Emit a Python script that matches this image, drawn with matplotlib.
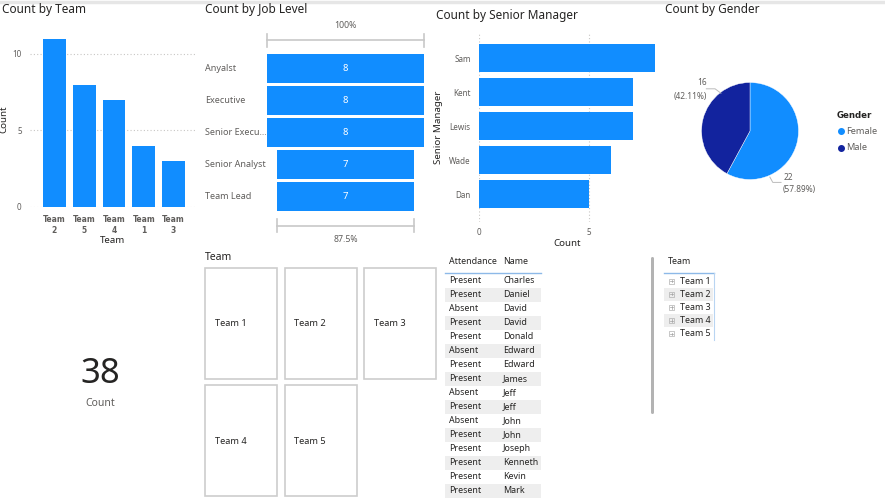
import matplotlib
matplotlib.use("Agg")
import matplotlib.pyplot as plt
import matplotlib.transforms as mtransforms
from matplotlib.patches import Rectangle, FancyBboxPatch

plt.rcParams['font.family'] = ['Noto Sans', 'DejaVu Sans']

# data
teams = ["Team\n2", "Team\n5", "Team\n4", "Team\n1", "Team\n3"]
team_counts = [11, 8, 7, 4, 3]

job_levels = ["Anyalst", "Executive", "Senior Execu\u2026", "Senior Analyst", "Team Lead"]
job_counts = [8, 8, 8, 7, 7]

managers = ["Sam", "Kent", "Lewis", "Wade", "Dan"]
manager_counts = [8, 7, 7, 6, 5]

genders = ["Female", "Male"]
gender_counts = [22, 16]

attendance = ["Present", "Present", "Absent", "Present", "Present", "Absent", "Present", "Present",
              "Absent", "Present", "Absent", "Present", "Present", "Present", "Present", "Present"]
names = ["Charles", "Daniel", "David", "David", "Donald", "Edward", "Edward", "James",
         "Jeff", "Jeff", "John", "John", "Joseph", "Kenneth", "Kevin", "Mark"]

slicer_teams = ["Team 1", "Team 2", "Team 3", "Team 4", "Team 5"]

BLUE = "#118DFF"
NAVY = "#12239E"
DARK = "#252423"
GRAY = "#605E5C"
GRID = "#C8C6C4"

W, H = 885, 500
fig = plt.figure(figsize=(W / 100, H / 100), dpi=100)


def px_axes(x0, y0, x1, y1, **kw):
    # pixel box with top-left origin -> figure axes
    return fig.add_axes([x0 / W, (H - y1) / H, (x1 - x0) / W, (y1 - y0) / H], **kw)


bg = px_axes(0, 0, W, H)
bg.set_xlim(0, W)
bg.set_ylim(H, 0)
bg.axis("off")
bg.set_zorder(0)

bg.plot([0, W], [1.5, 1.5], color="#E6E6E6", lw=2.5)

title_kw = dict(fontsize=8.5, color=DARK, va="center", ha="left")
bg.text(2, 9, "Count by Team", **title_kw)
bg.text(205, 9, "Count by Job Level", **title_kw)
bg.text(436, 16, "Count by Senior Manager", **title_kw)
bg.text(665, 9, "Count by Gender", **title_kw)

# ---- Count by Team
ax1 = px_axes(30, 31, 195, 207)
ax1.bar(range(len(teams)), team_counts, width=0.77, color=BLUE)
ax1.set_xlim(-0.82, 4.72)
ax1.set_ylim(0, 11.5)
ax1.set_yticks([0, 5, 10])
ax1.grid(axis="y", color=GRID, linestyle=(0, (1, 2)), lw=0.8)
ax1.set_axisbelow(True)
for s in ax1.spines.values():
    s.set_visible(False)
ax1.tick_params(length=0, labelsize=5.8, labelcolor=GRAY, pad=6)
ax1.set_xticks(range(len(teams)))
ax1.set_xticklabels(teams, fontsize=5.5, fontweight="bold", family="DejaVu Sans",
                    color=GRAY, linespacing=1.25)
ax1.tick_params(axis="x", pad=6)
ax1.set_xlabel("Team", fontsize=7, color=DARK, labelpad=1)
ax1.set_ylabel("Count", fontsize=7, color=DARK, labelpad=3)

# ---- Count by Job Level (funnel)
ax2 = px_axes(265, 52, 426, 213)
n = len(job_counts)
lefts = [-v / 2 for v in job_counts]
ax2.barh(range(n), job_counts, left=lefts, height=0.9, color=BLUE)
ax2.set_xlim(-4.1, 4.1)
ax2.set_ylim(n - 0.5, -0.5)
ax2.axis("off")
for i, v in enumerate(job_counts):
    ax2.text(0, i, str(v), color="white", fontsize=6.8, ha="center", va="center")
lab_tr = mtransforms.blended_transform_factory(bg.transData, ax2.transData)
for i, lab in enumerate(job_levels):
    bg.text(205, i, lab, transform=lab_tr, fontsize=6.5, color=GRAY, va="center", ha="left")


def bracket(ax, half, y, dy):
    ax.plot([-half, half], [y, y], color="#C8C8C8", lw=1.2, clip_on=False)
    for xx in (-half, half):
        ax.plot([xx, xx], [y - dy, y + dy], color="#C8C8C8", lw=1.2, clip_on=False)


bracket(ax2, job_counts[0] / 2, -0.87, 0.2)
ax2.text(0, -1.32, "100%", fontsize=6.3, color=GRAY, ha="center", va="center")
bracket(ax2, job_counts[-1] / 2, 4.9, 0.2)
ax2.text(0, 5.33, "{:g}%".format(job_counts[-1] / job_counts[0] * 100),
         fontsize=6.3, color=GRAY, ha="center", va="center")

# ---- Count by Senior Manager
ax3 = px_axes(479, 33, 655, 222)
ax3.barh(range(len(managers)), manager_counts, height=0.8, color=BLUE)
ax3.set_xlim(0, 8)
ax3.set_ylim(4.82, -0.735)
ax3.set_xticks([0, 5])
ax3.set_yticks(range(len(managers)))
ax3.set_yticklabels(managers)
ax3.grid(axis="x", color=GRID, linestyle=(0, (1, 2)), lw=0.8)
ax3.set_axisbelow(True)
for s in ax3.spines.values():
    s.set_visible(False)
ax3.tick_params(length=0, labelsize=5.8, labelcolor=GRAY)
ax3.tick_params(axis="y", pad=6)
ax3.tick_params(axis="x", pad=4)
ax3.set_xlabel("Count", fontsize=7, color=DARK, labelpad=2)
ax3.set_ylabel("Senior Manager", fontsize=7, color=DARK, labelpad=4)

# ---- Count by Gender
ax4 = px_axes(701.5, 82.5, 798.5, 179.5)
ax4.pie(gender_counts, colors=[BLUE, NAVY], startangle=90, counterclock=False,
        wedgeprops=dict(linewidth=0.3, edgecolor="white"))
ax4.set_xlim(-1, 1)
ax4.set_ylim(-1, 1)
total = sum(gender_counts)
pct = [c / total * 100 for c in gender_counts]
lbl = dict(fontsize=6, color=GRAY, ha="center", va="center")
ax4.plot([-0.60, -0.72, -0.90], [0.78, 0.87, 0.87], color="#BBBBBB", lw=0.7, clip_on=False)
ax4.text(-0.99, 0.99, str(gender_counts[1]), **lbl)
ax4.text(-1.24, 0.72, "({:.2f}%)".format(pct[1]), **lbl)
ax4.plot([0.41, 0.47, 0.64], [-0.95, -1.06, -1.06], color="#BBBBBB", lw=0.7, clip_on=False)
ax4.text(0.80, -0.95, str(gender_counts[0]), **lbl)
ax4.text(1.02, -1.20, "({:.2f}%)".format(pct[0]), **lbl)

bg.text(837, 116, "Gender", fontsize=6.2, fontweight="bold", family="DejaVu Sans",
        color=DARK, va="center")
for i, (g, c) in enumerate(zip(genders, [BLUE, NAVY])):
    yy = 131 + 17 * i
    bg.scatter([841], [yy], s=16, color=c, zorder=3)
    bg.text(846, yy, g, fontsize=6.6, color=GRAY, va="center")

# ---- card
bg.text(100, 374, str(total), fontsize=25, color=DARK, ha="center", va="center")
bg.text(100, 403, "Count", fontsize=7.5, color=GRAY, ha="center", va="center")

# ---- tile slicer
bg.text(205, 258, "Team", fontsize=7.5, color=DARK, va="center")
for i, t in enumerate(slicer_teams):
    r, c = divmod(i, 3)
    x0 = 205 + 79.5 * c
    y0 = 268 + 117 * r
    bg.add_patch(Rectangle((x0, y0), 72, 111, fill=False, edgecolor="#CDCDCD", lw=1.2))
    bg.text(x0 + 10, y0 + 56, t, fontsize=6.6, color=DARK, va="center")

# ---- attendance table
bg.text(449, 262, "Attendance", fontsize=6.4, color=DARK, va="center")
bg.text(503, 262, "Name", fontsize=6.4, color=DARK, va="center")
bg.plot([445, 541], [273, 273], color="#8DB9E8", lw=1)
for i, (a, nm) in enumerate(zip(attendance, names)):
    yy = 280.5 + 14.0 * i
    if i % 2 == 1:
        bg.add_patch(Rectangle((445, yy - 7), 96, 14, color="#EEEEEE", lw=0))
    bg.text(449, yy, a, fontsize=6.4, color=DARK, va="center")
    bg.text(503, yy, nm, fontsize=6.4, color=DARK, va="center")

# scrollbar
bg.add_patch(FancyBboxPatch((651, 257), 3, 157, boxstyle="round,pad=0,rounding_size=1.5",
                            color="#B3B3B3", lw=0))

# ---- team matrix
bg.text(668, 262, "Team", fontsize=6.4, color=DARK, va="center")
bg.plot([664, 714], [273, 273], color="#8DB9E8", lw=1)
bg.plot([713.5, 713.5], [273, 340], color="#B9D5F2", lw=0.8)
for i, t in enumerate(slicer_teams):
    yy = 281 + 13.2 * i
    if i % 2 == 1:
        bg.add_patch(Rectangle((664, yy - 6.5), 49, 13, color="#EEEEEE", lw=0))
    bg.add_patch(Rectangle((669, yy - 2.5), 5, 5, fill=False, edgecolor="#B0B0B0", lw=0.5))
    bg.plot([670.3, 672.7], [yy, yy], color="#A0A0A0", lw=0.5)
    bg.plot([671.5, 671.5], [yy - 1.2, yy + 1.2], color="#A0A0A0", lw=0.5)
    bg.text(680, yy, t, fontsize=6.4, color=DARK, va="center")

fig.savefig("out.png", dpi=100)
plt.close(fig)
